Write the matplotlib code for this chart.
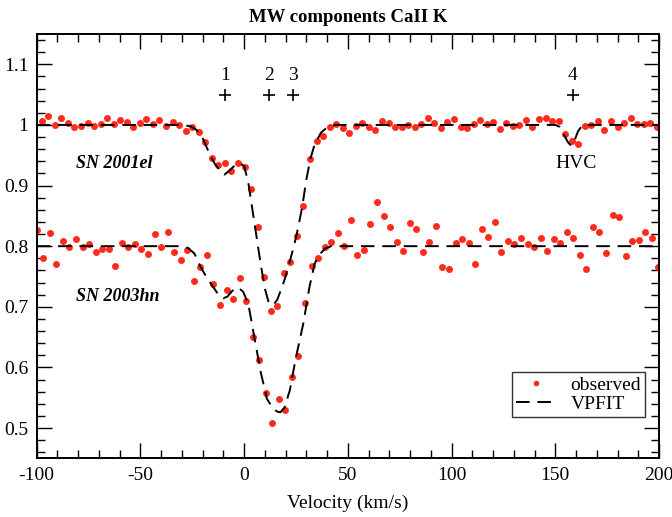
import matplotlib
matplotlib.use("Agg")
import matplotlib.pyplot as plt
from matplotlib.ticker import MultipleLocator, FormatStrFormatter

plt.rcParams["font.family"] = ["Liberation Serif", "DejaVu Serif"]
plt.rcParams["axes.unicode_minus"] = False

# SN 2001el, CaII K normalised flux (offset 0)
vel_01el = [
    -97.6, -94.4, -91.3, -88.1, -85.0, -81.8, -78.7, -75.5, -72.4, -69.2,
    -66.0, -62.9, -59.7, -56.6, -53.4, -50.3, -47.1, -44.0, -40.8, -37.7,
    -34.5, -31.3, -28.2, -25.0, -21.9, -18.7, -15.6, -12.4, -9.3, -6.1,
    -3.0, 0.2, 3.4, 6.5, 9.7, 12.8, 16.0, 19.1, 22.3, 25.4,
    28.6, 31.8, 34.9, 38.1, 41.2, 44.4, 47.5, 50.7, 53.8, 57.0,
    60.2, 63.3, 66.5, 69.6, 72.8, 75.9, 79.1, 82.2, 85.4, 88.5,
    91.7, 94.9, 98.0, 101.2, 104.3, 107.5, 110.6, 113.8, 116.9, 120.1,
    123.3, 126.4, 129.6, 132.7, 135.9, 139.0, 142.2, 145.3, 148.5, 151.6,
    154.8, 158.0, 161.1, 164.3, 167.4, 170.6, 173.7, 176.9, 180.0, 183.2,
    186.4, 189.5, 192.7, 195.8, 199.0,
]
flux_01el = [
    1.006, 1.014, 1.000, 1.011, 1.004, 0.997, 0.998, 1.004, 0.998, 1.001,
    1.011, 1.001, 1.008, 1.005, 0.996, 1.004, 1.009, 1.001, 1.008, 0.998,
    1.005, 1.000, 0.990, 0.997, 0.988, 0.972, 0.946, 0.934, 0.938, 0.924,
    0.938, 0.930, 0.895, 0.831, 0.749, 0.693, 0.701, 0.756, 0.774, 0.817,
    0.866, 0.944, 0.974, 0.981, 0.997, 1.002, 0.995, 0.986, 0.998, 1.004,
    0.996, 0.992, 1.007, 1.004, 0.997, 0.996, 1.000, 0.997, 1.002, 1.011,
    1.004, 0.995, 1.005, 1.009, 0.996, 0.995, 1.002, 1.008, 1.002, 1.005,
    0.993, 1.003, 0.998, 1.000, 1.008, 0.997, 1.009, 1.011, 1.006, 1.006,
    0.985, 0.974, 0.969, 0.998, 1.000, 1.007, 0.991, 1.007, 0.996, 1.003,
    1.011, 1.001, 1.001, 1.004, 0.996,
]

# SN 2003hn, offset by -0.2
vel_03hn = [
    -100.0, -96.8, -93.7, -90.5, -87.4, -84.2, -81.1, -77.9, -74.8, -71.6,
    -68.5, -65.3, -62.1, -59.0, -55.8, -52.7, -49.5, -46.4, -43.2, -40.1,
    -36.9, -33.7, -30.6, -27.4, -24.3, -21.1, -18.0, -14.8, -11.7, -8.5,
    -5.4, -2.2, 1.0, 4.1, 7.3, 10.4, 13.6, 16.7, 19.9, 23.0,
    26.2, 29.4, 32.5, 35.7, 38.8, 42.0, 45.1, 48.3, 51.4, 54.6,
    57.8, 60.9, 64.1, 67.2, 70.4, 73.5, 76.7, 79.8, 83.0, 86.1,
    89.3, 92.5, 95.6, 98.8, 101.9, 105.1, 108.2, 111.4, 114.5, 117.7,
    120.9, 124.0, 127.2, 130.3, 133.5, 136.6, 139.8, 142.9, 146.1, 149.2,
    152.4, 155.6, 158.7, 161.9, 165.0, 168.2, 171.3, 174.5, 177.6, 180.8,
    184.0, 187.1, 190.3, 193.4, 196.6, 199.7,
]
flux_03hn = [
    0.827, 0.780, 0.822, 0.771, 0.809, 0.799, 0.812, 0.799, 0.803, 0.791,
    0.796, 0.795, 0.768, 0.806, 0.798, 0.803, 0.796, 0.787, 0.820, 0.799,
    0.823, 0.790, 0.777, 0.793, 0.743, 0.766, 0.785, 0.737, 0.703, 0.728,
    0.713, 0.748, 0.709, 0.650, 0.612, 0.558, 0.509, 0.548, 0.530, 0.584,
    0.619, 0.706, 0.768, 0.781, 0.799, 0.807, 0.821, 0.800, 0.843, 0.786,
    0.793, 0.836, 0.873, 0.850, 0.831, 0.807, 0.792, 0.839, 0.828, 0.790,
    0.807, 0.833, 0.765, 0.762, 0.806, 0.812, 0.806, 0.770, 0.829, 0.815,
    0.840, 0.791, 0.808, 0.804, 0.813, 0.803, 0.798, 0.813, 0.792, 0.812,
    0.806, 0.824, 0.814, 0.785, 0.762, 0.831, 0.824, 0.789, 0.852, 0.848,
    0.784, 0.809, 0.810, 0.824, 0.814, 0.766,
]

# VPFIT model profiles
fit_v_01el = [
    -100, -30, -26, -23, -20, -17, -14, -11, -9.5, -7, -4, -2, 0, 2, 4, 6,
    8, 10, 12, 13, 14.5, 16, 18, 20, 22, 24, 26, 28, 30, 32, 34, 37, 40, 44,
    150, 152, 154, 156, 157.5, 159, 161, 163, 165, 200,
]
fit_f_01el = [
    1.0, 1.0, 0.998, 0.992, 0.978, 0.955, 0.935, 0.922, 0.918, 0.925, 0.935,
    0.937, 0.932, 0.905, 0.86, 0.815, 0.77, 0.73, 0.705, 0.703, 0.705, 0.712,
    0.73, 0.75, 0.775, 0.80, 0.83, 0.865, 0.91, 0.945, 0.968, 0.987, 0.996,
    1.0, 1.0, 0.997, 0.985, 0.972, 0.966, 0.972, 0.99, 0.999, 1.0, 1.0,
]
fit_v_03hn = [
    -100, -30, -27, -24, -21, -18, -15, -12, -10, -8, -5.5, -3, -0.5, 2, 5,
    8, 11, 14, 16, 17.5, 19.5, 22, 25, 28.5, 31.5, 34, 36, 39, 42, 200,
]
fit_f_03hn = [
    0.8, 0.8, 0.797, 0.788, 0.766, 0.748, 0.733, 0.718, 0.714, 0.717, 0.727,
    0.732, 0.725, 0.705, 0.648, 0.592, 0.548, 0.532, 0.527, 0.526, 0.534,
    0.562, 0.617, 0.672, 0.733, 0.771, 0.785, 0.796, 0.8, 0.8,
]

# component positions
comp_v = [-9.0, 12.0, 23.5, 158.5]
comp_labels = ["1", "2", "3", "4"]
comp_y = 1.05

red = "#ff2b1c"

fig = plt.figure(figsize=(6.72, 5.17), dpi=100)
ax = fig.add_axes([0.0546, 0.1135, 0.9261, 0.8207])

ax.plot(vel_01el, flux_01el, "o", color=red, ms=5, mec="none", label="observed")
ax.plot(vel_03hn, flux_03hn, "o", color=red, ms=5, mec="none")
ax.plot(fit_v_01el, fit_f_01el, color="black", lw=1.4, dashes=(7, 4), label="VPFIT")
ax.plot(fit_v_03hn, fit_f_03hn, color="black", lw=1.4, dashes=(7, 4))

ax.plot(comp_v, [comp_y] * len(comp_v), "+", color="black", ms=8, mew=1.2)
for v, lab in zip(comp_v, comp_labels):
    ax.text(v, comp_y + 0.018, lab, ha="center", va="bottom", fontsize=14)

ax.text(-81, 0.937, "SN 2001el", fontsize=13, fontweight="bold",
        fontstyle="italic", va="center")
ax.text(-81, 0.717, "SN 2003hn", fontsize=13, fontweight="bold",
        fontstyle="italic", va="center")
ax.text(160, 0.937, "HVC", fontsize=14, ha="center", va="center")

ax.set_xlim(-100, 200)
ax.set_ylim(0.45, 1.15)
ax.xaxis.set_major_locator(MultipleLocator(50))
ax.xaxis.set_minor_locator(MultipleLocator(10))
ax.yaxis.set_major_locator(MultipleLocator(0.1))
ax.yaxis.set_minor_locator(MultipleLocator(0.02))
ax.yaxis.set_major_formatter(FormatStrFormatter("%g"))
ax.tick_params(which="both", direction="in", top=True, right=True,
               labelsize=14, width=1.0)
ax.tick_params(which="major", length=11, pad=6)
ax.tick_params(which="minor", length=6)
for s in ax.spines.values():
    s.set_linewidth(1.4)

ax.set_xlabel("Velocity (km/s)", fontsize=14, labelpad=8)
ax.set_title("MW components CaII K", fontsize=13.5, fontweight="bold", pad=9)

leg = ax.legend(loc="lower right", bbox_to_anchor=(0.9775, 0.097),
                borderaxespad=0, fontsize=14, frameon=True, fancybox=False,
                handlelength=2.0, handletextpad=0.8, borderpad=0.2,
                labelspacing=0.1, markerscale=0.8)
leg.get_frame().set_edgecolor("black")
leg.get_frame().set_linewidth(1.0)

fig.savefig("out.png", dpi=100)
